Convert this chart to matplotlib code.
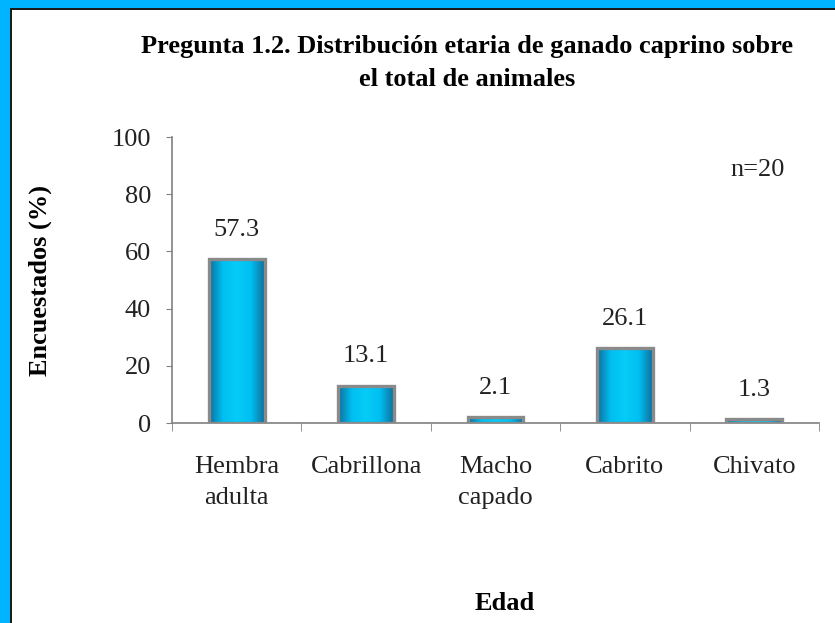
import numpy as np
import matplotlib
matplotlib.use('Agg')
import matplotlib.pyplot as plt
from matplotlib.colors import LinearSegmentedColormap
from matplotlib.patches import Rectangle

categorias = ['Hembra\nadulta', 'Cabrillona', 'Macho\ncapado', 'Cabrito', 'Chivato']
valores = [57.3, 13.1, 2.1, 26.1, 1.3]
etiquetas = ['57.3', '13.1', '2.1', '26.1', '1.3']
yticks = [0, 20, 40, 60, 80, 100]

plt.rcParams['font.family'] = ['Liberation Serif', 'DejaVu Serif']

fig = plt.figure(figsize=(8.35, 6.23), dpi=100)
fig.patch.set_facecolor('white')

# marco azul (arriba e izquierda)
W, H = 835.0, 623.0
fig.patches.append(Rectangle((0, 1 - 8 / H), 1, 8 / H, transform=fig.transFigure,
                             facecolor='#00B4FF', edgecolor='none', zorder=0))
fig.patches.append(Rectangle((0, 0), 10 / W, 1, transform=fig.transFigure,
                             facecolor='#00B4FF', edgecolor='none', zorder=0))
fig.patches.append(Rectangle((10 / W, 0), 2 / W, 1 - 8 / H, transform=fig.transFigure,
                             facecolor='#1a1a1a', edgecolor='none', zorder=0))
fig.patches.append(Rectangle((10 / W, 1 - 10 / H), 1, 2 / H, transform=fig.transFigure,
                             facecolor='#1a1a1a', edgecolor='none', zorder=0))

ax = fig.add_axes([172 / W, 1 - 423 / H, (819 - 172) / W, (423 - 137) / H])

x = np.arange(len(categorias))
ancho = 0.43
cmap = LinearSegmentedColormap.from_list('barra', ['#0F6E9C', '#00BFF2', '#06CCF7', '#00BFF2', '#0F6E9C'])
grad = np.linspace(0, 1, 256).reshape(1, -1)

barras = ax.bar(x, valores, width=ancho, facecolor='none', edgecolor='#8A8A8A',
                linewidth=2.4, zorder=3)
for b in barras:
    img = ax.imshow(grad, cmap=cmap, aspect='auto', zorder=2,
                    extent=(b.get_x(), b.get_x() + b.get_width(), 0, b.get_height()))
    img.set_clip_path(b)

for xi, v, t in zip(x, valores, etiquetas):
    ax.annotate(t, (xi, v), xytext=(0, 21), textcoords='offset points',
                ha='center', va='center', fontsize=19, color='#222222')

ax.set_xlim(-0.5, len(categorias) - 0.5)
ax.set_ylim(0, 100)
ax.set_yticks(yticks)
ax.set_xticks(x)
ax.set_xticklabels(categorias, fontsize=19, linespacing=1.5)
ax.set_xticks(np.arange(len(categorias) + 1) - 0.5, minor=True)
ax.tick_params(axis='x', which='major', length=0, pad=24, colors='#222222')
ax.tick_params(axis='x', which='minor', length=6, color='#808080', direction='out')
ax.tick_params(axis='y', length=4, color='#808080', labelsize=19, labelcolor='#222222', pad=11)

for s in ['top', 'right']:
    ax.spines[s].set_visible(False)
for s in ['left', 'bottom']:
    ax.spines[s].set_color('#808080')
    ax.spines[s].set_linewidth(1.2)

ax.text(0.905, 0.885, 'n=20', transform=ax.transAxes, ha='center', va='center',
        fontsize=19, color='#222222')

fig.text(467 / W, 1 - 63 / H, 'Pregunta 1.2. Distribución etaria de ganado caprino sobre\nel total de animales',
         ha='center', va='center', fontsize=19, fontweight='bold', linespacing=1.5)
ax.set_ylabel('Encuestados (%)', fontsize=19, fontweight='bold')
ax.yaxis.set_label_coords((52 - 172) / 647, 0.5)
fig.text(505 / W, 1 - 603 / H, 'Edad', ha='center', va='center', fontsize=19, fontweight='bold')

fig.savefig('out.png', dpi=100)
